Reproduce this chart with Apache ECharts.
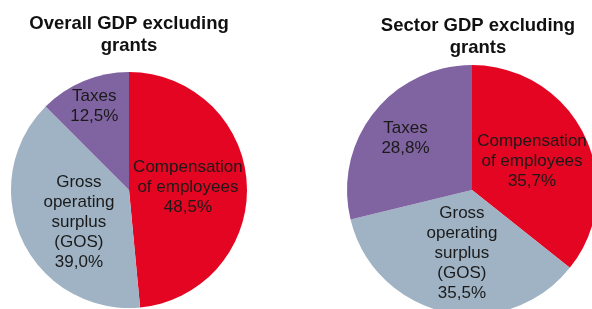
<!DOCTYPE html>
<html>
<head>
<meta charset="utf-8">
<script src="https://cdn.jsdelivr.net/npm/echarts@6/dist/echarts.min.js"></script>
<style>
html,body{margin:0;padding:0;background:#fff;}
#c{width:592px;height:309px;}
</style>
</head>
<body>
<div id="c"></div>
<script>
const categories = ["Compensation\nof employees", "Gross\noperating\nsurplus\n(GOS)", "Taxes"];
const overallValues = [48.5, 39.0, 12.5];
const sectorValues = [35.7, 35.5, 28.8];
const titles = ["Overall GDP excluding\ngrants", "Sector GDP excluding\ngrants"];
const colors = ["#E30521", "#9FB3C4", "#8063A1"];

function fmt(v){ return v.toFixed(1).replace('.', ',') + '%'; }

function buildData(values, offsets){
  return categories.map((name, i) => ({
    name: name,
    value: values[i],
    itemStyle: {color: colors[i]},
    label: {offset: offsets[i]}
  }));
}

const chart = echarts.init(document.getElementById('c'), null, {renderer: 'canvas'});
const labelStyle = {
  show: true,
  position: 'inside',
  formatter: p => p.name + '\n' + fmt(p.value),
  color: '#1a1a1a',
  fontFamily: 'Liberation Sans, Arial, sans-serif',
  fontSize: 17,
  lineHeight: 20,
  align: 'center'
};
const titleStyle = {fontFamily: 'Liberation Sans, Arial, sans-serif', fontSize: 18.5, fontWeight: 'bold', color: '#111', lineHeight: 22};
chart.setOption({
  animation: false,
  title: [
    {text: titles[0], left: 124, top: 8, textAlign: 'center', textStyle: titleStyle},
    {text: titles[1], left: 473, top: 10, textAlign: 'center', textStyle: titleStyle}
  ],
  series: [
    {
      type: 'pie', center: [129, 190], radius: 118, startAngle: 90, clockwise: true,
      label: labelStyle, labelLine: {show: false},
      itemStyle: {borderWidth: 0},
      emphasis: {disabled: true},
      data: buildData(overallValues, [[-3, 0], [6, 6], [-11, -26]])
    },
    {
      type: 'pie', center: [472, 190], radius: 125, startAngle: 90, clockwise: true,
      label: labelStyle, labelLine: {show: false},
      itemStyle: {borderWidth: 0},
      emphasis: {disabled: true},
      data: buildData(sectorValues, [[1, 0], [4, -1], [-15, -11]])
    }
  ]
});
</script>
</body>
</html>
